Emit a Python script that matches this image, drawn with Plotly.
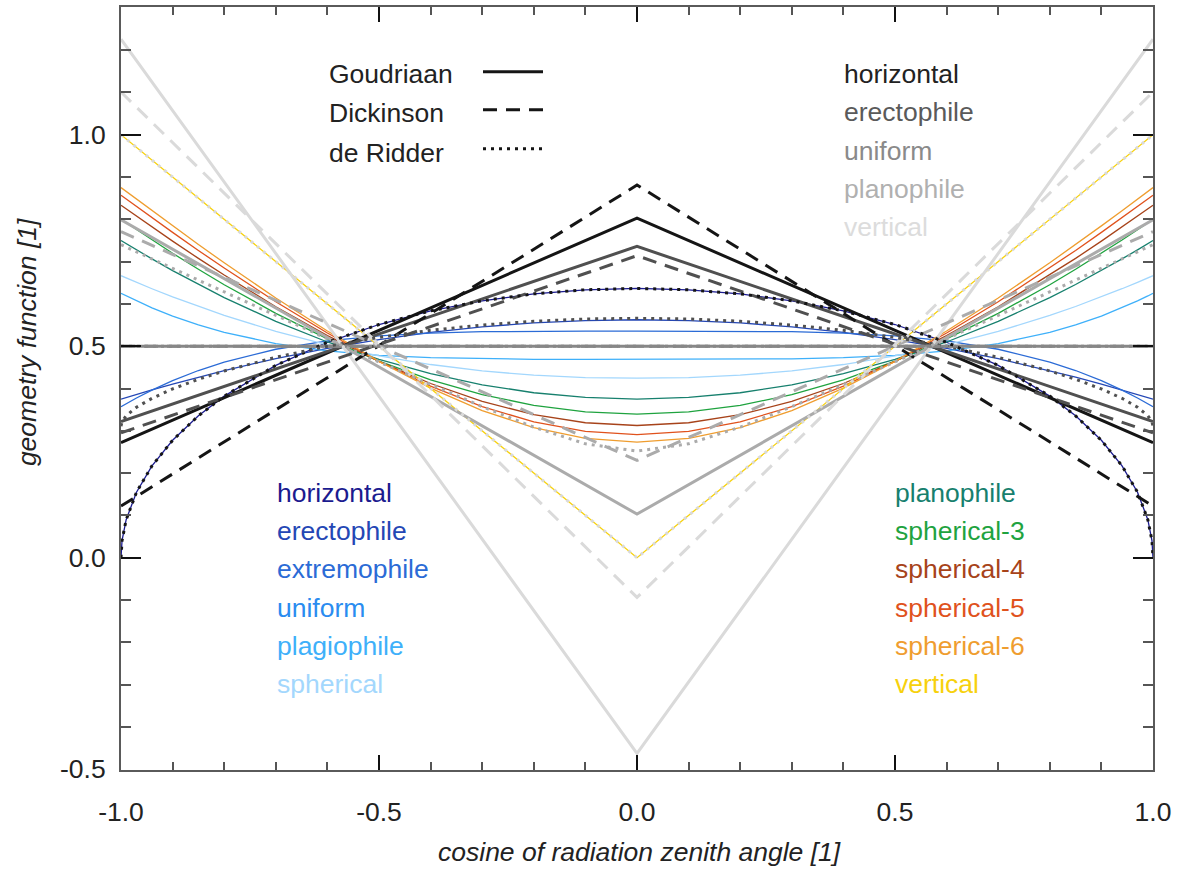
import plotly.graph_objects as go

# ---------------- data ----------------
X_S = [-1.0, -0.998, -0.99, -0.97, -0.94, -0.9, -0.85, -0.8, -0.7, -0.6, -0.5, -0.4, -0.3, -0.2, -0.1, 0.0,
       0.1, 0.2, 0.3, 0.4, 0.5, 0.6, 0.7, 0.8, 0.85, 0.9, 0.94, 0.97, 0.99, 0.998, 1.0]
X_V = [-1.0, 0.0, 1.0]

X_TICKS = [-1.0, -0.5, 0.0, 0.5, 1.0]
X_TICKTEXT = ["-1.0", "-0.5", "0.0", "0.5", "1.0"]
Y_TICKS = [-0.5, 0.0, 0.5, 1.0]
Y_TICKTEXT = ["-0.5", "0.0", "0.5", "1.0"]

# exact curves (thin coloured lines)
C_HORIZONTAL = [0, .0402, .0898, .1548, .2172, .2775, .3354, .3820, .4546, .5093, .5513, .5835, .6073, .6238, .6334, .6366,
                .6334, .6238, .6073, .5835, .5513, .5093, .4546, .3820, .3354, .2775, .2172, .1548, .0898, .0402, 0]
C_ERECTOPHILE = [.375, .3758, .3787, .3861, .3968, .4106, .427, .4425, .4706, .495, .5156, .5325, .5456, .555, .5606, .5625,
                 .5606, .555, .5456, .5325, .5156, .495, .4706, .4425, .427, .4106, .3968, .3861, .3787, .3758, .375]
C_EXTREMOPHILE = [.3571, .3585, .3641, .3776, .3963, .4185, .4425, .4625, .4928, .5126, .5245, .5311, .5343, .5354, .5357, .5357,
                  .5357, .5354, .5343, .5311, .5245, .5126, .4928, .4625, .4425, .4185, .3963, .3776, .3641, .3585, .3571]
C_UNIFORM = [0.5, 0.5, 0.5]
C_PLAGIOPHILE = [.625, .6238, .6188, .6071, .5907, .5713, .5503, .5328, .5063, .4890, .4785, .4728, .4700, .4690, .4688, .4688,
                 .4688, .4690, .4700, .4728, .4785, .4890, .5063, .5328, .5503, .5713, .5907, .6071, .6188, .6238, .625]
C_SPHERICAL = [.6667, .6656, .6614, .6510, .6359, .6166, .5939, .5727, .5350, .5031, .4771, .4567, .4415, .4314, .4259, .4244,
               .4259, .4314, .4415, .4567, .4771, .5031, .5350, .5727, .5939, .6166, .6359, .6510, .6614, .6656, .6667]
C_PLANOPHILE = [.75, .7485, .7425, .7278, .7064, .6788, .6459, .615, .5588, .51, .4688, .435, .4088, .39, .3788, .375,
                .3788, .39, .4088, .435, .4688, .51, .5588, .615, .6459, .6788, .7064, .7278, .7425, .7485, .75]
C_SPHERICAL3 = [.8, .7984, .7918, .7754, .7511, .7198, .6818, .6454, .5777, .5172, .4646, .4205, .3855, .3601, .3447, .3395,
                .3447, .3601, .3855, .4205, .4646, .5172, .5777, .6454, .6818, .7198, .7511, .7754, .7918, .7984, .8]
C_SPHERICAL4 = [.8333, .8316, .8246, .8074, .7818, .7484, .7076, .6682, .5933, .5249, .4640, .4118, .3694, .3382, .3190, .3125,
                .3190, .3382, .3694, .4118, .4640, .5249, .5933, .6682, .7076, .7484, .7818, .8074, .8246, .8316, .8333]
C_SPHERICAL5 = [.8571, .8553, .8482, .8304, .8039, .7691, .7264, .6848, .6051, .5311, .4641, .4056, .3573, .3211, .2986, .2910,
                .2986, .3211, .3573, .4056, .4641, .5311, .6051, .6848, .7264, .7691, .8039, .8304, .8482, .8553, .8571]
C_SPHERICAL6 = [.875, .8732, .8658, .8476, .8204, .7845, .7404, .6972, .6140, .5358, .4642, .4008, .3477, .3074, .2821, .2734,
                .2821, .3074, .3477, .4008, .4642, .5358, .6140, .6972, .7404, .7845, .8204, .8476, .8658, .8732, .875]
C_VERTICAL = [1.0, 0.0, 1.0]

# Goudriaan (solid grey lines)
GO_HORIZONTAL = [0.272, 0.803, 0.272]
GO_ERECTOPHILE = [0.322, 0.736, 0.322]
GO_UNIFORM = [0.5, 0.5, 0.5]
GO_PLANOPHILE = [0.799, 0.103, 0.799]
GO_VERTICAL = [1.226, -0.463, 1.226]

# Dickinson (dashed grey lines)
DI_HORIZONTAL = [0.122, 0.881, 0.122]
DI_ERECTOPHILE = [0.295, 0.714, 0.295]
DI_UNIFORM = [0.5, 0.5, 0.5]
DI_PLANOPHILE = [0.771, 0.230, 0.771]
DI_VERTICAL = [1.101, -0.094, 1.101]

# de Ridder (dotted grey lines)
DR_HORIZONTAL = C_HORIZONTAL
DR_ERECTOPHILE = [.311, .3215, .3356, .3557, .3768, .3989, .4218, .4414, .4738, .4999, .5209, .5375, .5501, .559, .5643, .566,
                  .5643, .559, .5501, .5375, .5209, .4999, .4738, .4414, .4218, .3989, .3768, .3557, .3356, .3215, .311]
DR_UNIFORM = [0.5, 0.5, 0.5]
DR_PLANOPHILE = [.74, .7388, .7344, .7232, .7064, .6840, .6561, .6282, .5727, .5175, .4628, .4091, .3571, .3087, .2692, .252,
                 .2692, .3087, .3571, .4091, .4628, .5175, .5727, .6282, .6561, .6840, .7064, .7232, .7344, .7388, .74]
DR_VERTICAL = [1.0, 0.0, 1.0]

MODEL_NAMES = ["Goudriaan", "Dickinson", "de Ridder"]
GREY_NAMES = ["horizontal", "erectophile", "uniform", "planophile", "vertical"]
LEFT_NAMES = ["horizontal", "erectophile", "extremophile", "uniform", "plagiophile", "spherical"]
RIGHT_NAMES = ["planophile", "spherical-3", "spherical-4", "spherical-5", "spherical-6", "vertical"]

# ---------------- styles ----------------
GREYS = ["#151515", "#505050", "#878787", "#ababab", "#dadada"]
GREY_TEXT = ["#222222", "#5a5a5a", "#8a8a8a", "#b0b0b0", "#dcdcdc"]
LEFT_COLS = ["#1b1b8f", "#2447b5", "#2b6bd6", "#2a8cf0", "#3eb0fa", "#a3d7fd"]
RIGHT_COLS = ["#17806e", "#1fa33f", "#a7431a", "#e0521d", "#ef9d2f", "#f7d10d"]
DASH = "14px,9px"
DOT = "3px,5px"
FONT = "Liberation Sans, Arial, Helvetica, sans-serif"

L, R, T, B = 121, 1153, 5, 770
W, H = 1181, 872


def px(x):
    return (x - L) / (R - L)


def py(y):
    return (B - y) / (B - T)


fig = go.Figure()


def add(x, y, color, width, dash=None):
    fig.add_trace(go.Scatter(x=x, y=y, mode="lines", showlegend=False, hoverinfo="skip",
                             line=dict(color=color, width=width, dash=dash)))


# coloured exact curves
coloured = [
    (X_S, C_HORIZONTAL, LEFT_COLS[0]), (X_S, C_ERECTOPHILE, LEFT_COLS[1]), (X_S, C_EXTREMOPHILE, LEFT_COLS[2]),
    (X_V, C_UNIFORM, LEFT_COLS[3]), (X_S, C_PLAGIOPHILE, LEFT_COLS[4]), (X_S, C_SPHERICAL, LEFT_COLS[5]),
    (X_S, C_PLANOPHILE, RIGHT_COLS[0]), (X_S, C_SPHERICAL3, RIGHT_COLS[1]), (X_S, C_SPHERICAL4, RIGHT_COLS[2]),
    (X_S, C_SPHERICAL5, RIGHT_COLS[3]), (X_S, C_SPHERICAL6, RIGHT_COLS[4]), (X_V, C_VERTICAL, RIGHT_COLS[5]),
]
for x, y, c in coloured:
    add(x, y, c, 1.3)

GW = 3
for i, y in enumerate([GO_HORIZONTAL, GO_ERECTOPHILE, GO_UNIFORM, GO_PLANOPHILE, GO_VERTICAL]):
    add(X_V, y, GREYS[i], GW)
for i, y in enumerate([DI_HORIZONTAL, DI_ERECTOPHILE, DI_UNIFORM, DI_PLANOPHILE, DI_VERTICAL]):
    add(X_V, y, GREYS[i], GW, DASH)
dr = [(X_S, DR_HORIZONTAL), (X_S, DR_ERECTOPHILE), (X_V, DR_UNIFORM), (X_S, DR_PLANOPHILE), (X_V, DR_VERTICAL)]
for i, (x, y) in enumerate(dr):
    add(x, y, GREYS[i], GW, DOT)

# ---------------- text blocks ----------------
ann = []
shapes = []
FS = 26.5


def text(x, y, s, color="#222222", size=FS):
    ann.append(dict(x=px(x), y=py(y), xref="paper", yref="paper", text=s, showarrow=False,
                    xanchor="left", yanchor="middle", font=dict(family=FONT, size=size, color=color)))


model_y = [72, 111, 151]
model_line_y = [70, 108, 147]
for i, name in enumerate(MODEL_NAMES):
    text(327, model_y[i], name)
    shapes.append(dict(type="line", xref="paper", yref="paper", x0=px(483), x1=px(543),
                       y0=py(model_line_y[i]), y1=py(model_line_y[i]),
                       line=dict(color="#151515", width=GW, dash=[None, DASH, DOT][i])))

for i, name in enumerate(GREY_NAMES):
    text(842, 72 + 38.5 * i, name, GREY_TEXT[i])
for i, name in enumerate(LEFT_NAMES):
    text(275, 492 + 38.4 * i, name, LEFT_COLS[i])
for i, name in enumerate(RIGHT_NAMES):
    text(893, 492 + 38.4 * i, name, RIGHT_COLS[i])

# axis titles
ann.append(dict(x=px(639), y=py(852), xref="paper", yref="paper", showarrow=False,
                text="<i>cosine of radiation zenith angle [1]</i>", xanchor="center", yanchor="middle",
                font=dict(family=FONT, size=FS, color="#222222")))
ann.append(dict(x=px(27), y=py(341), xref="paper", yref="paper", showarrow=False, textangle=-90,
                text="<i>geometry function [1]</i>", xanchor="center", yanchor="middle",
                font=dict(family=FONT, size=FS, color="#222222")))

axis_common = dict(showgrid=False, zeroline=False, showline=True, linecolor="#5a5a5a", linewidth=2,
                   mirror="ticks", ticks="inside", tickcolor="#111111", tickwidth=1.5,
                   tickfont=dict(family=FONT, size=FS, color="#222222"))

fig.update_xaxes(range=[-1, 1], tickvals=X_TICKS, ticktext=X_TICKTEXT, ticklen=15, ticklabelstandoff=17,
                 minor=dict(ticks="inside", ticklen=8, dtick=0.1, tick0=0, tickcolor="#555555", tickwidth=1.5),
                 **axis_common)
fig.update_yaxes(range=[-0.502, 1.302], tickvals=Y_TICKS, ticktext=Y_TICKTEXT, ticklen=20, ticklabelstandoff=8,
                 minor=dict(ticks="inside", ticklen=10, dtick=0.1, tick0=0, tickcolor="#555555", tickwidth=1.5),
                 **axis_common)

fig.update_layout(width=W, height=H, margin=dict(l=L, r=W - R, t=T, b=H - B),
                  paper_bgcolor="white", plot_bgcolor="white", showlegend=False,
                  annotations=ann, shapes=shapes)

fig.write_html("out.html")
